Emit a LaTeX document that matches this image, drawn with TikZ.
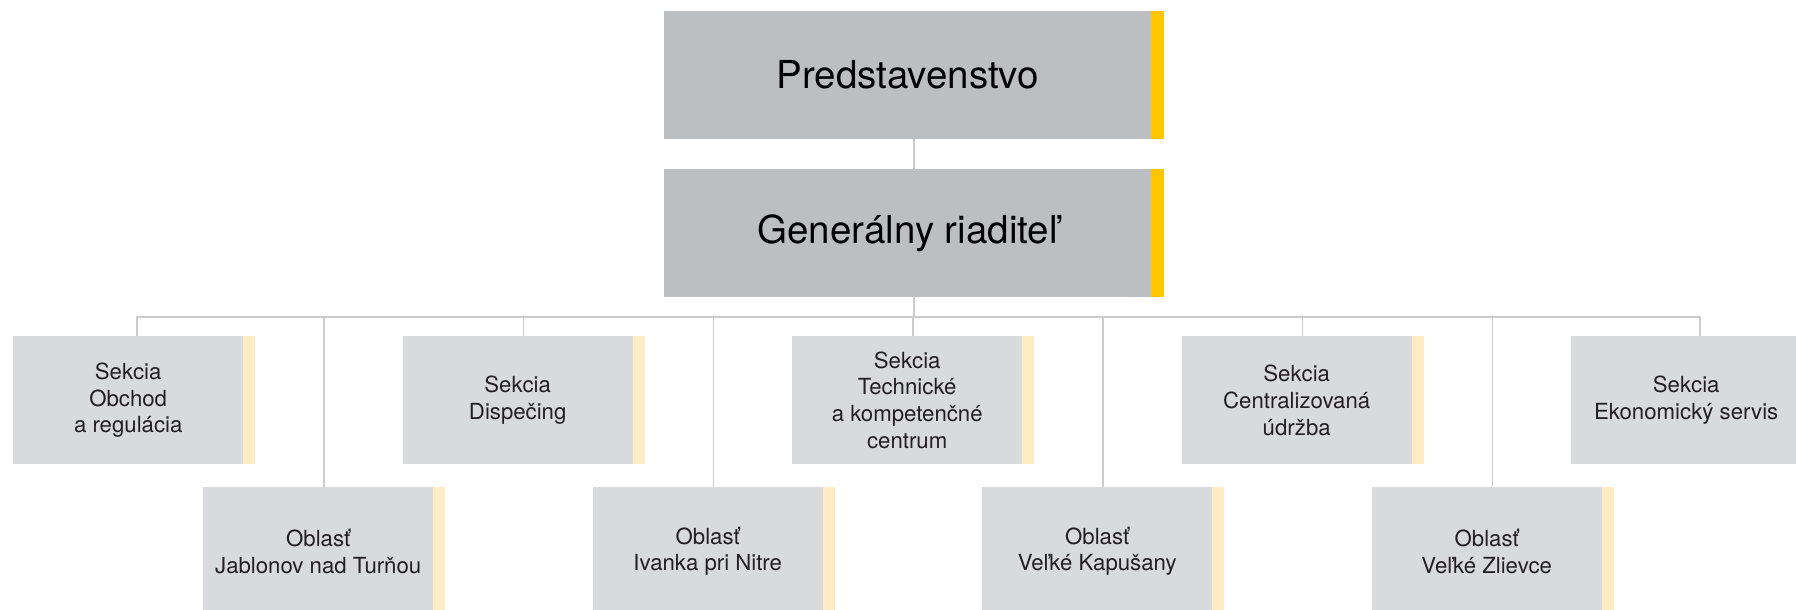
\documentclass[tikz,border=0pt]{standalone}
\usepackage{fontspec}
\setmainfont{TeX Gyre Heros}
\definecolor{topgray}{RGB}{189,190,192}
\definecolor{lowgray}{RGB}{217,218,220}
\definecolor{yel}{RGB}{255,198,0}
\definecolor{lyel}{RGB}{255,236,196}
\definecolor{linec}{RGB}{204,204,204}
\definecolor{txt}{RGB}{35,31,32}
\begin{document}
\begin{tikzpicture}[x=1pt,y=-1pt,
  bigbox/.style={fill=topgray, minimum width=487pt, minimum height=128pt, anchor=north west, inner sep=0pt, font=\fontsize{38.5}{44}\selectfont, text=black},
  smallbox/.style={fill=lowgray, minimum width=230pt, minimum height=128pt, anchor=north west, inner sep=0pt, align=center, font=\fontsize{22.2}{26.7}\selectfont, text=txt},
  conn/.style={draw=linec, line width=1.5pt}]
\clip (0,0) rectangle (1796,610);
\fill[white] (0,0) rectangle (1796,610);
% top boxes
\node[bigbox] (pr) at (664,11) {Predstavenstvo};
\node[bigbox] (gr) at (664,169) {Generálny riaditeľ};
\foreach \n in {pr,gr} \fill[yel] (\n.north east) rectangle ([xshift=13pt]\n.south east);
% upper row
\node[smallbox] (s1) at (13,336) {Sekcia\\Obchod\\a regulácia};
\node[smallbox] (s2) at (402.5,336) {Sekcia\\Dispečing};
\node[smallbox] (s3) at (792,336) {Sekcia\\Technické\\a kompetenčné\\centrum};
\node[smallbox] (s4) at (1181.5,336) {Sekcia\\Centralizovaná\\údržba};
\node[smallbox] (s5) at (1571,336) {Sekcia\\Ekonomický servis};
% lower row
\node[smallbox] (o1) at (203,487) {Oblasť\\Jablonov nad Turňou};
\node[smallbox] (o2) at (592.5,487) {Oblasť\\Ivanka pri Nitre};
\node[smallbox] (o3) at (982,487) {Oblasť\\Veľké Kapušany};
\node[smallbox] (o4) at (1371.5,487) {Oblasť\\Veľké Zlievce};
\foreach \n in {s1,s2,s3,s4,s5,o1,o2,o3,o4} \fill[lyel] (\n.north east) rectangle ([xshift=12pt]\n.south east);
% connectors
\coordinate (bus) at (0,317);
\draw[conn] ([xshift=6.5pt]pr.south) -- ([xshift=6.5pt]gr.north);
\draw[conn] ([xshift=6.5pt]gr.south) -- ([xshift=6.5pt]gr.south |- bus);
\draw[conn] ([xshift=9pt]s1.north) -- ([xshift=9pt]s1.north |- bus) -- ([xshift=14pt]s5.north |- bus) -- ([xshift=14pt]s5.north);
\foreach \n in {s2,s3,s4,o1,o2,o3,o4} \draw[conn] ([xshift=6pt]\n.north) -- ([xshift=6pt]\n.north |- bus);
\end{tikzpicture}
\end{document}
